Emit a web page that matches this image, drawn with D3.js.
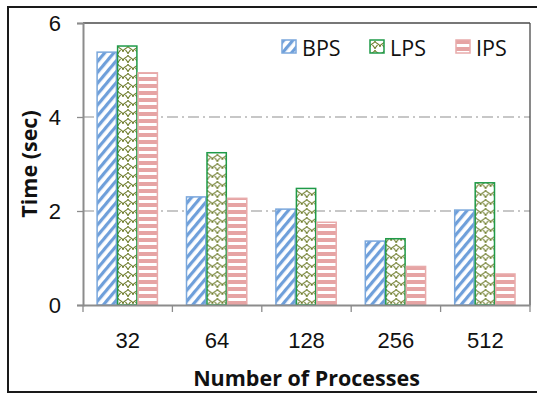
<!DOCTYPE html>
<html>
<head>
<meta charset="utf-8">
<script src="https://cdn.jsdelivr.net/npm/d3@7"></script>
<style>
  body { margin: 0; background: #fff; }
  svg { display: block; font-family: "Open Sans", Lato, sans-serif; }
</style>
</head>
<body>
<div id="viz"></div>
<script>
const categories = ['32', '64', '128', '256', '512'];
const seriesNames = ['BPS', 'LPS', 'IPS'];
const bps = [5.38, 2.30, 2.04, 1.36, 2.02];
const lps = [5.51, 3.24, 2.48, 1.41, 2.60];
const ips = [4.94, 2.27, 1.76, 0.82, 0.66];
const yTicks = [0, 2, 4, 6];

const width = 537, height = 393;
const margin = { top: 23, right: 7, bottom: 88, left: 83 };

const svg = d3.select('#viz').append('svg')
  .attr('width', width)
  .attr('height', height);

// patterns
const defs = svg.append('defs');

const pBps = defs.append('pattern')
  .attr('id', 'pat-bps')
  .attr('patternUnits', 'userSpaceOnUse')
  .attr('width', 7).attr('height', 7)
  .attr('patternTransform', 'rotate(40)');
pBps.append('rect').attr('width', 7).attr('height', 7).attr('fill', '#fff');
pBps.append('rect').attr('x', 0).attr('width', 3.2).attr('height', 7).attr('fill', '#6e9fda');

// shingle-like pattern
const pLps = defs.append('pattern')
  .attr('id', 'pat-lps')
  .attr('patternUnits', 'userSpaceOnUse')
  .attr('width', 10).attr('height', 9);
pLps.append('rect').attr('width', 10).attr('height', 9).attr('fill', '#fff');
pLps.append('path')
  .attr('d', 'M0,7 C0,3 5,4 5,1 M5,1 C5,4 10,3 10,7 M5,9 C5,7 3,6 2.5,5 M5,9 C5,7 7,6 7.5,5')
  .attr('fill', 'none')
  .attr('stroke', '#6f7d2c')
  .attr('stroke-width', 1.1);

const pIps = defs.append('pattern')
  .attr('id', 'pat-ips')
  .attr('patternUnits', 'userSpaceOnUse')
  .attr('width', 7).attr('height', 7);
pIps.append('rect').attr('width', 7).attr('height', 7).attr('fill', '#fff');
pIps.append('rect').attr('y', 0).attr('width', 7).attr('height', 4).attr('fill', '#e6a4a4');

const fills = { BPS: 'url(#pat-bps)', LPS: 'url(#pat-lps)', IPS: 'url(#pat-ips)' };
const strokes = { BPS: '#7aa7dc', LPS: '#1f9a48', IPS: '#e8abab' };
const seriesData = { BPS: bps, LPS: lps, IPS: ips };

const xScale = d3.scaleBand()
  .domain(categories)
  .range([margin.left, width - margin.right]);

const x1 = d3.scaleBand()
  .domain(seriesNames)
  .range([13.5, 75]);

const yScale = d3.scaleLinear()
  .domain([0, 6])
  .range([height - margin.bottom, margin.top]);

// outer frame
svg.append('rect')
  .attr('x', 8).attr('y', 7)
  .attr('width', 545).attr('height', 385)
  .attr('fill', 'none')
  .attr('stroke', '#1a1a1a')
  .attr('stroke-width', 2);

// gridlines (dash-dot)
svg.append('g')
  .selectAll('line')
  .data(yTicks.filter(t => t > 0 && t < 6))
  .enter().append('line')
  .attr('x1', margin.left)
  .attr('x2', width - margin.right)
  .attr('y1', d => yScale(d))
  .attr('y2', d => yScale(d))
  .style('stroke', '#b5b5b5')
  .style('stroke-width', 1.3)
  .style('stroke-dasharray', '11,4,2,4');

// plot box top and right
svg.append('line')
  .attr('x1', margin.left).attr('x2', width - margin.right)
  .attr('y1', yScale(6)).attr('y2', yScale(6))
  .style('stroke', '#4a4a4a').style('stroke-width', 1.3);
svg.append('line')
  .attr('x1', width - margin.right).attr('x2', width - margin.right)
  .attr('y1', yScale(6)).attr('y2', yScale(0))
  .style('stroke', '#4a4a4a').style('stroke-width', 1.3);

// bars
const groups = svg.append('g')
  .selectAll('g')
  .data(categories)
  .enter().append('g')
  .attr('transform', d => `translate(${xScale(d)},0)`);

groups.selectAll('rect')
  .data((c, i) => seriesNames.map(s => ({ s, v: seriesData[s][i] })))
  .enter().append('rect')
  .attr('x', d => x1(d.s) + 0.6)
  .attr('width', x1.bandwidth() - 1.2)
  .attr('y', d => yScale(d.v))
  .attr('height', d => yScale(0) - yScale(d.v))
  .style('fill', d => fills[d.s])
  .style('stroke', d => strokes[d.s])
  .style('stroke-width', 1.5);

// axes
const yAxis = svg.append('g')
  .attr('transform', `translate(${margin.left},0)`)
  .call(d3.axisLeft(yScale).tickValues(yTicks).tickSize(6).tickPadding(16).tickFormat(d3.format('d')));
yAxis.select('.domain').style('stroke', '#8c8c8c').style('stroke-width', 2);
yAxis.selectAll('.tick line').style('stroke', '#8c8c8c').style('stroke-width', 1.3);
yAxis.selectAll('.tick text').style('font-size', '22px').style('fill', '#111');

const xAxis = svg.append('g')
  .attr('transform', `translate(0,${yScale(0)})`)
  .call(d3.axisBottom(xScale).tickSize(0).tickPadding(27));
xAxis.select('.domain').style('stroke', '#8c8c8c').style('stroke-width', 2);
xAxis.selectAll('.tick text').style('font-size', '22px').style('fill', '#111');

// category separator ticks
svg.append('g')
  .selectAll('line')
  .data(categories.concat(['end']))
  .enter().append('line')
  .attr('x1', (d, i) => i < categories.length ? xScale(d) : width - margin.right)
  .attr('x2', (d, i) => i < categories.length ? xScale(d) : width - margin.right)
  .attr('y1', yScale(0))
  .attr('y2', yScale(0) + 7)
  .style('stroke', '#8c8c8c')
  .style('stroke-width', 1.3);

// axis titles
svg.append('text')
  .attr('x', (margin.left + width - margin.right) / 2)
  .attr('y', 386)
  .attr('text-anchor', 'middle')
  .style('font-size', '21.5px')
  .style('font-weight', 'bold')
  .style('fill', '#111')
  .text('Number of Processes');

svg.append('text')
  .attr('transform', `translate(37,${(yScale(0) + yScale(6)) / 2}) rotate(-90)`)
  .attr('text-anchor', 'middle')
  .style('font-size', '21.5px')
  .style('font-weight', 'bold')
  .style('fill', '#111')
  .text('Time (sec)');

// legend
const legendX = [282, 370, 456];
const legend = svg.append('g')
  .selectAll('g')
  .data(seriesNames)
  .enter().append('g')
  .attr('transform', (d, i) => `translate(${legendX[i]},40)`);

legend.append('rect')
  .attr('width', 14).attr('height', 13)
  .style('fill', d => fills[d])
  .style('stroke', d => strokes[d])
  .style('stroke-width', 1.5);

legend.append('text')
  .attr('x', 20).attr('y', 16)
  .style('font-size', '21.5px')
  .style('fill', '#111')
  .text(d => d);
</script>
</body>
</html>
